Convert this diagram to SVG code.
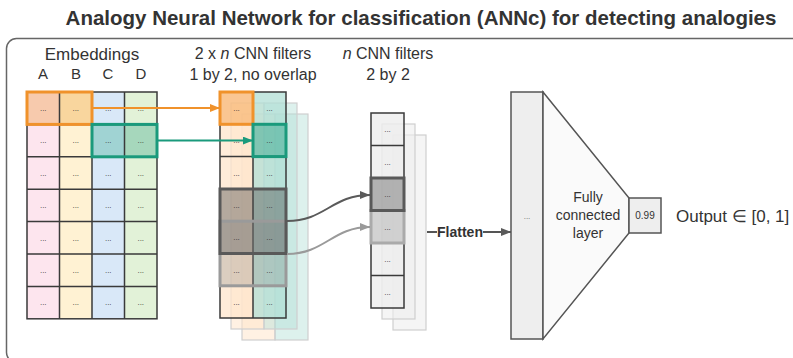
<svg xmlns="http://www.w3.org/2000/svg" width="793" height="358" viewBox="0 0 793 358">
<defs>
<style>
text{font-family:"Liberation Sans",Arial,sans-serif;fill:#333}
.lbl{font-size:17px;text-anchor:middle}
.dots{font-size:8px;fill:#666;text-anchor:middle}
.grid{fill:none;stroke:#3a3a3a;stroke-width:1.5}
.back{stroke:#cfcfcf;stroke-width:1.2}
.conn{fill:none;stroke-width:2}
</style>
<marker id="mo" viewBox="0 0 10 8" refX="10" refY="4" markerWidth="10" markerHeight="8" markerUnits="userSpaceOnUse" orient="auto"><path d="M0,0L10,4L0,8z" fill="#f0922b"/></marker>
<marker id="mg" viewBox="0 0 10 8" refX="10" refY="4" markerWidth="10" markerHeight="8" markerUnits="userSpaceOnUse" orient="auto"><path d="M0,0L10,4L0,8z" fill="#1a9a7c"/></marker>
<marker id="md" viewBox="0 0 10 8" refX="10" refY="4" markerWidth="10" markerHeight="8" markerUnits="userSpaceOnUse" orient="auto"><path d="M0,0L10,4L0,8z" fill="#5a5a5a"/></marker>
<marker id="ml" viewBox="0 0 10 8" refX="10" refY="4" markerWidth="10" markerHeight="8" markerUnits="userSpaceOnUse" orient="auto"><path d="M0,0L10,4L0,8z" fill="#9a9a9a"/></marker>
</defs>
<rect width="793" height="358" fill="#fff"/>
<text x="421" y="25" style="font-size:20.5px;font-weight:bold;text-anchor:middle">Analogy Neural Network for classification (ANNc) for detecting analogies</text>
<rect x="6.5" y="38.5" width="830" height="324" rx="10" fill="none" stroke="#666" stroke-width="1.5"/>

<g id="labels">
<text class="lbl" x="92" y="60">Embeddings</text>
<text class="lbl" x="43" y="79" style="font-size:15px">A</text>
<text class="lbl" x="76" y="79" style="font-size:15px">B</text>
<text class="lbl" x="108" y="79" style="font-size:15px">C</text>
<text class="lbl" x="141" y="79" style="font-size:15px">D</text>
<text class="lbl" x="253" y="59" style="font-size:16px">2 x <tspan font-style="italic">n</tspan> CNN filters</text>
<text class="lbl" x="253" y="80" style="font-size:16px">1 by 2, no overlap</text>
<text class="lbl" x="388" y="59" style="font-size:16px"><tspan font-style="italic">n</tspan> CNN filters</text>
<text class="lbl" x="388" y="80" style="font-size:16px">2 by 2</text>
</g>

<g id="embeddings">
<rect x="27" y="92" width="32.5" height="226.8" fill="#fde5ee"/>
<rect x="59.5" y="92" width="32.5" height="226.8" fill="#fff2d3"/>
<rect x="92" y="92" width="32.5" height="226.8" fill="#d9e8f8"/>
<rect x="124.5" y="92" width="32.5" height="226.8" fill="#e2f2d8"/>
<rect x="27" y="92" width="32.5" height="32.4" fill="#f7caad"/>
<rect x="59.5" y="92" width="32.5" height="32.4" fill="#f9d69e"/>
<rect x="92" y="124.4" width="32.5" height="32.4" fill="#a0d3d3"/>
<rect x="124.5" y="124.4" width="32.5" height="32.4" fill="#a6d7bc"/>
<rect class="grid" x="27" y="92" width="130" height="226.8"/>
<path class="grid" d="M59.5,92V318.8M92,92V318.8M124.5,92V318.8M27,124.4H157M27,156.8H157M27,189.2H157M27,221.6H157M27,254H157M27,286.4H157"/>
<rect x="27" y="92" width="65" height="32.4" fill="none" stroke="#f0922b" stroke-width="3"/>
<rect x="92" y="124.4" width="65" height="32.4" fill="none" stroke="#1a9a7c" stroke-width="3"/>
<g class="dots">
<text x="43.25" y="111">...</text><text x="75.75" y="111">...</text><text x="108.25" y="111">...</text><text x="140.75" y="111">...</text>
<text x="43.25" y="143.4">...</text><text x="75.75" y="143.4">...</text><text x="108.25" y="143.4">...</text><text x="140.75" y="143.4">...</text>
<text x="43.25" y="175.8">...</text><text x="75.75" y="175.8">...</text><text x="108.25" y="175.8">...</text><text x="140.75" y="175.8">...</text>
<text x="43.25" y="208.2">...</text><text x="75.75" y="208.2">...</text><text x="108.25" y="208.2">...</text><text x="140.75" y="208.2">...</text>
<text x="43.25" y="240.6">...</text><text x="75.75" y="240.6">...</text><text x="108.25" y="240.6">...</text><text x="140.75" y="240.6">...</text>
<text x="43.25" y="273">...</text><text x="75.75" y="273">...</text><text x="108.25" y="273">...</text><text x="140.75" y="273">...</text>
<text x="43.25" y="305.4">...</text><text x="75.75" y="305.4">...</text><text x="108.25" y="305.4">...</text><text x="140.75" y="305.4">...</text>
</g>
</g>

<g id="filters1x2">
<rect class="back" x="242" y="114" width="33" height="226" fill="#ffe6cc" fill-opacity="0.55"/>
<rect class="back" x="275" y="114" width="33" height="226" fill="#b3e0d8" fill-opacity="0.45"/>
<rect class="back" x="231" y="103" width="33" height="226" fill="#ffe6cc" fill-opacity="0.55"/>
<rect class="back" x="264" y="103" width="33" height="226" fill="#b3e0d8" fill-opacity="0.45"/>
<rect x="220" y="92" width="33" height="226" fill="#ffe6cc" fill-opacity="0.75"/>
<rect x="253" y="92" width="33" height="226" fill="#b2dfd6" fill-opacity="0.75"/>
<rect class="grid" x="220" y="92" width="66" height="226"/>
<path class="grid" d="M253,92V318M220,124.3H286M220,156.6H286M220,188.9H286M220,221.2H286M220,253.5H286M220,285.8H286"/>
<rect x="220" y="92" width="33" height="32.3" fill="#f39a3c" fill-opacity="0.45" stroke="#f0922b" stroke-width="3"/>
<rect x="253" y="124.3" width="33" height="32.3" fill="#1a9a7c" fill-opacity="0.4" stroke="#1a9a7c" stroke-width="3"/>
<rect x="220" y="188.9" width="66" height="64.6" fill="#4d4d4d" fill-opacity="0.42"/>
<rect x="220" y="221.2" width="66" height="64.6" fill="#888" fill-opacity="0.3" stroke="#9a9a9a" stroke-width="3"/>
<path d="M220,221.2V188.9H286V221.2M220,221.2V253.5H286V221.2" fill="none" stroke="#595959" stroke-width="3"/>
<g class="dots">
<text x="236.5" y="111">...</text><text x="269.5" y="111">...</text>
<text x="236.5" y="143.3">...</text><text x="269.5" y="143.3">...</text>
<text x="236.5" y="175.6">...</text><text x="269.5" y="175.6">...</text>
<text x="236.5" y="207.9">...</text><text x="269.5" y="207.9">...</text>
<text x="236.5" y="240.2">...</text><text x="269.5" y="240.2">...</text>
<text x="236.5" y="272.5">...</text><text x="269.5" y="272.5">...</text>
<text x="236.5" y="304.8">...</text><text x="269.5" y="304.8">...</text>
</g>
</g>

<g id="filters2x2">
<rect class="back" x="393" y="135" width="33" height="195" fill="#eee" fill-opacity="0.6"/>
<rect class="back" x="382" y="124" width="33" height="195" fill="#eee" fill-opacity="0.6"/>
<rect x="371" y="113" width="33" height="195" fill="#eee" fill-opacity="0.8"/>
<rect class="grid" x="371" y="113" width="33" height="195"/>
<path class="grid" d="M371,145.5H404M371,178H404M371,210.5H404M371,243H404M371,275.5H404"/>
<rect x="371" y="210.5" width="33" height="32.5" fill="#999" fill-opacity="0.35" stroke="#aaa" stroke-width="3"/>
<rect x="371" y="178" width="33" height="32.5" fill="#666" fill-opacity="0.45" stroke="#595959" stroke-width="3"/>
<g class="dots">
<text x="387.5" y="132.3">...</text>
<text x="387.5" y="164.8">...</text>
<text x="387.5" y="197.3">...</text>
<text x="387.5" y="229.8">...</text>
<text x="387.5" y="262.3">...</text>
<text x="387.5" y="294.8">...</text>
</g>
</g>

<g id="fc">
<rect x="511" y="92" width="32" height="247" fill="#eee" stroke="#555" stroke-width="1.5"/>
<text class="dots" x="527" y="219">...</text>
<polygon points="543,92 629,198 629,233 543,339" fill="#fafafa" stroke="#555" stroke-width="1.5"/>
<text x="588" y="202" style="font-size:14px;text-anchor:middle">Fully</text>
<text x="588" y="220" style="font-size:14px;text-anchor:middle">connected</text>
<text x="588" y="238" style="font-size:14px;text-anchor:middle">layer</text>
</g>

<g id="output">
<rect x="629" y="198" width="32" height="35" fill="#eee" stroke="#555" stroke-width="1.5"/>
<text x="645" y="219" style="font-size:10px;text-anchor:middle">0.99</text>
<text x="676" y="222" style="font-size:17px">Output ∈ [0, 1]</text>
</g>

<g id="connectors">
<path class="conn" d="M93,108H220" stroke="#f0922b" marker-end="url(#mo)"/>
<path class="conn" d="M157,140.6H253" stroke="#1a9a7c" marker-end="url(#mg)"/>
<path class="conn" d="M287,221C325,221 332,195 370,195" stroke="#5a5a5a" marker-end="url(#md)"/>
<path class="conn" d="M287,254C325,254 332,227 370,227" stroke="#9a9a9a" marker-end="url(#ml)"/>
<path class="conn" d="M427,232H511" stroke="#555" marker-end="url(#md)"/>
<rect x="437" y="223" width="46" height="18" fill="#fff"/>
<text x="460" y="237" style="font-size:14px;font-weight:bold;text-anchor:middle">Flatten</text>
</g>
</svg>
